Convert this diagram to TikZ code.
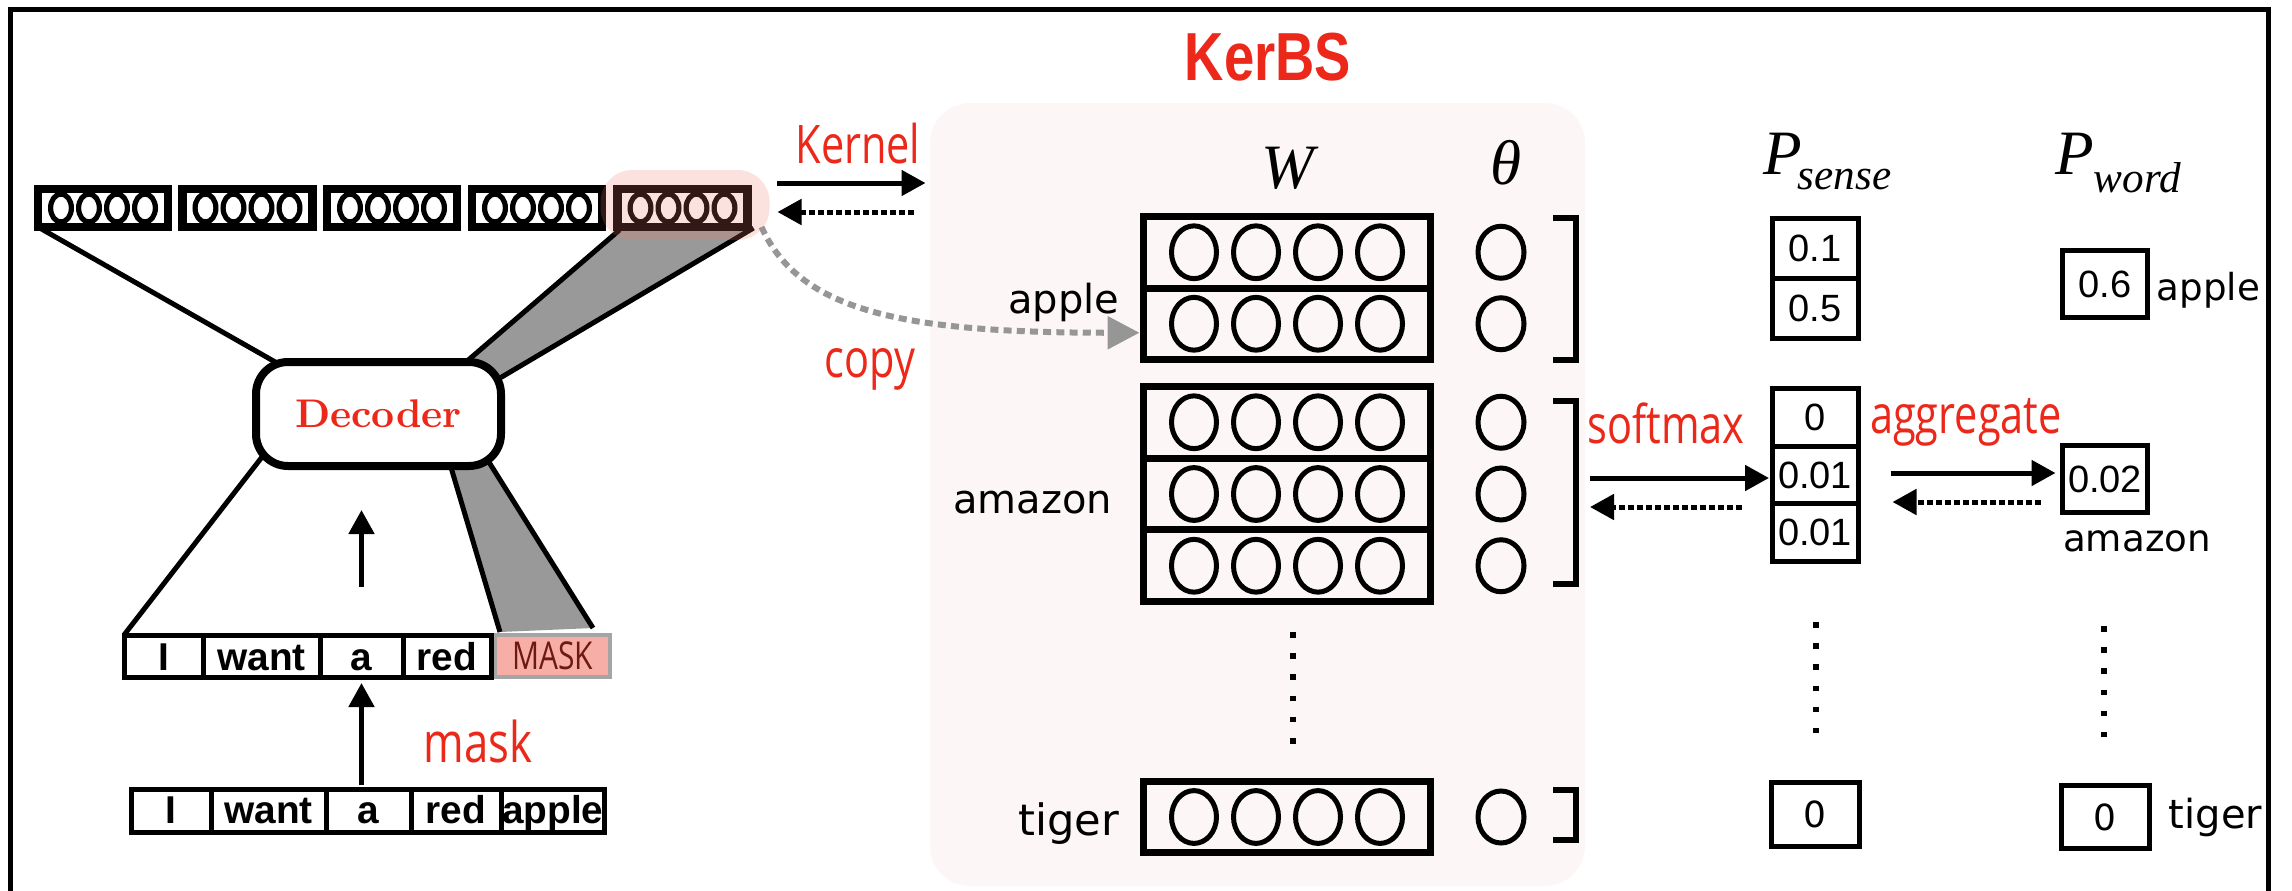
\documentclass[tikz,border=0pt]{standalone}
\usepackage{fontspec}
\usetikzlibrary{arrows.meta,calc}
\newfontfamily\lblfont[FakeStretch=0.78]{Open Sans}
\newfontfamily\hel{Liberation Sans}
\newfontfamily\helcond[FakeStretch=0.8]{Liberation Sans}
\newfontfamily\tms{Liberation Serif}
\newfontfamily\djv{DejaVu Sans}
\pgfdeclarelayer{back}
\pgfdeclarelayer{bg}
\pgfdeclarelayer{front}
\pgfsetlayers{back,bg,main,front}
\definecolor{kred}{RGB}{235,40,25}
\definecolor{panelpink}{RGB}{252,247,246}
\definecolor{hlpink}{RGB}{240,120,100}
\definecolor{maskpink}{RGB}{247,174,166}
\definecolor{maskgray}{RGB}{165,165,165}
\definecolor{masktext}{RGB}{110,25,20}
\definecolor{bandgray}{RGB}{153,153,153}
\definecolor{copygray}{RGB}{150,150,150}
\tikzset{
  arr/.style={line width=1.25pt,-{Triangle[width=6.25pt,length=6pt]}},
  dotarr/.style={arr,dash pattern=on 1.4pt off 0.85pt},
  vecbox/.style={draw,line width=2.2pt,minimum width=32.5pt,minimum height=9.5pt,inner sep=0pt,outer sep=0pt},
  vell/.style={line width=1.3pt},
  tokcell/.style={draw,line width=1.25pt,inner sep=0pt,outer sep=0pt,font=\hel\bfseries\fontsize{9.7pt}{10pt}\selectfont},
  wcell/.style={draw,line width=1.75pt,minimum width=71.75pt,inner sep=0pt,outer sep=0pt},
  well/.style={line width=1.25pt},
  numcell/.style={draw,line width=1.25pt,inner sep=0pt,outer sep=0pt,font=\hel\fontsize{9.5pt}{10pt}\selectfont},
  zerocell/.style={draw,line width=1.25pt,inner sep=0pt,outer sep=0pt,font=\djv\fontsize{9pt}{10pt}\selectfont},
  redlbl/.style={text=kred,inner sep=0pt,font=\lblfont\fontsize{13.3pt}{15pt}\selectfont},
  wordlbl/.style={inner sep=0pt,font=\djv\fontsize{10pt}{12pt}\selectfont},
  wordlblr/.style={inner sep=0pt,font=\djv\fontsize{9.3pt}{11pt}\selectfont},
  brk/.style={line width=1.5pt},
  vdots/.style={line width=1.5pt,dash pattern=on 1.4pt off 3.9pt},
  bandedge/.style={line width=1.25pt},
  hdr/.style={inner sep=0pt,font=\tms\itshape\fontsize{15.8pt}{17pt}\selectfont},
  hdrsub/.style={inner sep=0pt,font=\tms\itshape\fontsize{10.8pt}{12pt}\selectfont}
}
\begin{document}
\begin{tikzpicture}[x=0.25pt,y=-0.25pt]
\useasboundingbox (0,0) rectangle (2292,890);
\begin{pgfonlayer}{back}
\fill[white] (0,0) rectangle (2292,890);
\node[fill=panelpink,rounded corners=10pt,minimum width=163.75pt,minimum height=195.75pt,inner sep=0pt,outer sep=0pt] (panel) at (1257.5,494.5) {};
\end{pgfonlayer}
\draw[line width=1.25pt] (10,900) -- (10,9) -- (2268,9) -- (2268,900);

% title
\node[anchor=base,text=kred,inner sep=0pt,font=\helcond\bfseries\fontsize{17pt}{18pt}\selectfont] (title) at (1268,80) {KerBS};

% output vectors
\foreach \i/\cx in {1/103,2/247.5,3/392,4/537,5/682.5}{
  \node[vecbox] (v\i) at (\cx,208) {};
  \foreach \dx in {-42,-14,14,42}
    \draw[vell] ($(v\i.center)+(\dx,0)$) ellipse [x radius=2.6pt,y radius=3.5pt];
}

% decoder
\node[draw,line width=2pt,fill=white,rounded corners=8pt,minimum width=61.25pt,minimum height=26pt,inner sep=0pt,outer sep=0pt,text=kred,font=\bfseries\fontsize{10pt}{11pt}\selectfont] (dec) at (378.5,414) {Decoder};

% token row 1
\node[tokcell,draw=maskgray,fill=maskpink,line width=1pt,minimum width=28.75pt,minimum height=10.5pt,text=masktext,font=\lblfont\fontsize{9.6pt}{10pt}\selectfont] (t1m) at (552.5,656) {MASK};
\node[tokcell,minimum width=19.75pt,minimum height=10.5pt,text height=7.2pt,text depth=0pt] (t1i) at (163.5,656) {I};
\node[tokcell,minimum width=29.25pt,minimum height=10.5pt,text height=7.2pt,text depth=0pt] (t1w) at (261.5,656) {want};
\node[tokcell,minimum width=20.75pt,minimum height=10.5pt,text height=7.2pt,text depth=0pt] (t1a) at (361.5,656) {a};
\node[tokcell,minimum width=22pt,minimum height=10.5pt,text height=7.2pt,text depth=0pt] (t1r) at (447,656) {red};

% token row 2
\node[tokcell,minimum width=20pt,minimum height=10.75pt,text height=6pt,text depth=0pt] (t2i) at (171,811) {I};
\node[tokcell,minimum width=28.75pt,minimum height=10.75pt,text height=6pt,text depth=0pt] (t2w) at (268.5,811) {want};
\node[tokcell,minimum width=21.25pt,minimum height=10.75pt,text height=6pt,text depth=0pt] (t2a) at (368.5,811) {a};
\node[tokcell,minimum width=22.5pt,minimum height=10.75pt,text height=6pt,text depth=0pt] (t2r) at (456,811) {red};
\node[tokcell,minimum width=25.875pt,minimum height=10.75pt,text height=6pt,text depth=0pt] (t2p) at (552.75,811) {apple};

% bands and connecting lines
\begin{pgfonlayer}{bg}
\fill[bandgray] ($(v5.south west)+(2,3)$) -- ($(v5.south east)+(6,1)$) -- ($(dec.north east)+(-1,16)$) -- ($(dec.north east)+(-35,0)$) -- cycle;
\draw[bandedge] ($(v5.south west)+(2,3)$) -- ($(dec.north east)+(-35,0)$);
\draw[bandedge] ($(v5.south east)+(6,1)$) -- ($(dec.north east)+(-1,16)$);
\fill[bandgray] ($(dec.south east)+(-51,-2)$) -- ($(dec.south east)+(-14,-7)$) -- ($(t1m.north east)+(-17,-7)$) -- ($(t1m.north west)+(5,-3)$) -- cycle;
\draw[bandedge] ($(dec.south east)+(-51,-2)$) -- ($(t1m.north west)+(5,-3)$);
\draw[bandedge] ($(dec.south east)+(-14,-7)$) -- ($(t1m.north east)+(-17,-7)$);
\draw[bandedge] (v1.south west) -- ($(dec.north west)+(21,1)$);
\draw[bandedge] ($(dec.south west)+(6,-9)$) -- (t1i.north west);
\end{pgfonlayer}

% vertical arrows
\draw[arr,shorten <=12pt,shorten >=11pt] (t1a.north) -- (t1a.north |- dec.south);
\draw[arr,shorten <=1.25pt,shorten >=1.5pt] (t1a.south |- t2a.north) -- (t1a.south);
\node[redlbl,anchor=base,font=\lblfont\fontsize{14pt}{15pt}\selectfont] (lmask) at (478,762) {mask};

% kernel arrows
\draw[arr] ($(v5.east)+(29,-25)$) -- ($(v5.east)+(178,-25)$);
\draw[dotarr] ($(v5.east)+(166,4)$) -- ($(v5.east)+(30,4)$);
\node[redlbl,anchor=base] (lkernel) at (858,163) {Kernel};
\node[redlbl,anchor=base] (lcopy) at (870,377) {copy};

% W and theta
\node[hdr,anchor=base] (hW) at (1288,188) {W};
\node[hdr,anchor=base] (hth) at (1506,184) {θ};
\foreach \n/\cy/\h in {p1/252.25/17.875pt,p2/323.75/17.875pt,a1/422.25/17.9pt,a2/494/17.9pt,a3/565.75/17.9pt,t1/817/17.75pt}{
  \node[wcell,minimum height=\h] (w\n) at (1287,\cy) {};
  \foreach \dx in {-93,-31,31,93}
    \draw[well] ($(w\n.center)+(\dx,0)$) ellipse [x radius=5.625pt,y radius=6.6pt];
  \draw[well] ($(w\n.center)+(214,0)$) ellipse [x radius=5.75pt,y radius=6.5pt];
}
\draw[vdots] (1293,632) -- (1293,752);
\draw[brk] (1553,218) -| (1576,360) -- (1553,360);
\draw[brk] (1553,401) -| (1576,584) -- (1553,584);
\draw[brk] (1553,790) -| (1576,840) -- (1553,840);

\node[wordlbl,anchor=base east] (lapple) at (1120,313) {apple};
\node[wordlbl,anchor=base east] (lamazon) at (1113,513) {amazon};
\node[wordlbl,anchor=base east,font=\djv\fontsize{10.8pt}{12pt}\selectfont] (ltiger) at (1120,835) {tiger};

% copy arrow
\draw[line width=1.5pt,copygray,dash pattern=on 2pt off 1.3pt,-{Triangle[width=8pt,length=8pt]}] ($(v5.south east)+(14,0)$) .. controls +(38,84) and +(-238,0) .. ($(wp2.west)+(-4,9)$);

% P sense
\node[hdr,anchor=base west] (psP) at (1763,174) {P};
\node[hdrsub,anchor=base west] (psS) at (1797,189) {sense};
\node[numcell,minimum width=21.5pt,minimum height=15pt] (sP1) at (1815,248.5) {0.1};
\node[numcell,minimum width=21.5pt,minimum height=15pt] (sP2) at (1815,308.5) {0.5};
\node[numcell,minimum width=21.5pt,minimum height=14.4pt] (sA1) at (1815,417.3) {0};
\node[numcell,minimum width=21.5pt,minimum height=14.4pt] (sA2) at (1815,475) {0.01};
\node[numcell,minimum width=21.5pt,minimum height=14.4pt] (sA3) at (1815,532.7) {0.01};
\node[zerocell,minimum width=22pt,minimum height=16pt] (sT) at (1815,814.5) {0};
\draw[vdots] (1816,622) -- (1816,733);

% P word
\node[hdr,anchor=base west] (pwP) at (2055,174) {P};
\node[hdrsub,anchor=base west] (pwS) at (2093,192) {word};
\node[numcell,minimum width=21.25pt,minimum height=16.75pt] (oP) at (2105,284) {0.6};
\node[numcell,minimum width=21.25pt,minimum height=16.75pt] (oA) at (2105,479) {0.02};
\node[zerocell,minimum width=22pt,minimum height=15.75pt] (oT) at (2105,817) {0};
\draw[vdots] (2104,626) -- (2104,737);
\node[wordlblr,anchor=base west] (rapple) at (2156,300) {apple};
\node[wordlblr,anchor=base] (ramazon) at (2137,551) {amazon};
\node[wordlblr,anchor=base west,font=\djv\fontsize{10pt}{11pt}\selectfont] (rtiger) at (2168,828) {tiger};

% softmax / aggregate arrows
\draw[arr] ($(sA2.west)+(-182,3)$) -- ($(sA2.west)+(-3,3)$);
\draw[dotarr] ($(sA2.west)+(-30,32)$) -- ($(sA2.west)+(-182,32)$);
\node[redlbl,anchor=base] (lsoftmax) at (1666,443) {softmax};
\draw[arr] ($(oA.west)+(-172,-6)$) -- ($(oA.west)+(-7,-6)$);
\draw[dotarr] ($(oA.west)+(-22,23)$) -- ($(oA.west)+(-170,23)$);
\node[redlbl,anchor=base] (laggregate) at (1966,433) {aggregate};

% highlight on the last output vector
\begin{pgfonlayer}{front}
\fill[hlpink,fill opacity=0.21,rounded corners=8pt] ($(v5.north west)+(-17,-19)$) rectangle ($(v5.south east)+(22,13)$);
\end{pgfonlayer}
\end{tikzpicture}
\end{document}
